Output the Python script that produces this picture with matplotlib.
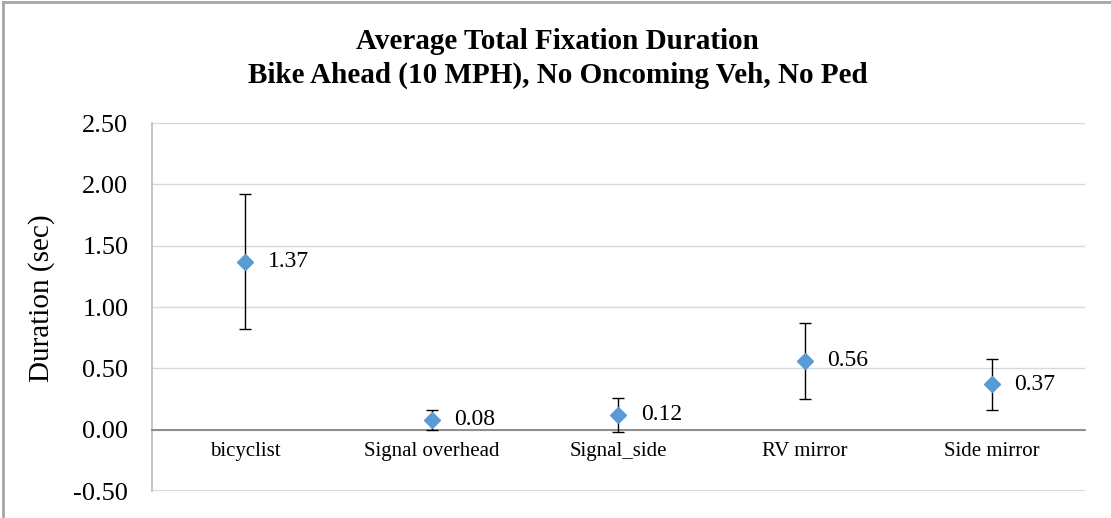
import numpy as np
import matplotlib.pyplot as plt
from matplotlib.lines import Line2D

categories = ['bicyclist', 'Signal overhead', 'Signal_side', 'RV mirror', 'Side mirror']
means = [1.37, 0.08, 0.12, 0.56, 0.37]
errors = [0.55, 0.08, 0.14, 0.31, 0.21]
yticks = [-0.5, 0.0, 0.5, 1.0, 1.5, 2.0, 2.5]

plt.rcParams['font.family'] = ['Liberation Serif', 'DejaVu Serif']

fig = plt.figure(figsize=(11.11, 5.18), dpi=100)
ax = fig.add_axes([0.1368, 0.0521, 0.8398, 0.7104])

# move the category axis to y=0 first (set_position resets the ticks)
ax.spines['bottom'].set_position(('data', 0))
ax.spines['bottom'].set_color('#868686')
ax.spines['bottom'].set_linewidth(1.3)
ax.spines['top'].set_visible(False)
ax.spines['right'].set_visible(False)
ax.spines['left'].set_color('#BFBFBF')
ax.spines['left'].set_linewidth(1.3)

x = np.arange(len(categories))
ax.errorbar(x, means, yerr=errors, fmt='D', color='#5B9BD5', markersize=8,
            ecolor='black', elinewidth=1, capsize=4.5, capthick=1, zorder=3)

# data labels right of each marker
for xi, m in zip(x, means):
    ax.annotate(f'{m:.2f}', (xi, m), xytext=(16, 0), textcoords='offset points',
                va='center', ha='left', fontsize=17)

ax.set_xlim(-0.5, len(categories) - 0.5)
ax.set_ylim(-0.5, 2.5)
ax.set_yticks(yticks)
ax.set_yticklabels([f'{v:.2f}' for v in yticks], fontsize=19)
ax.yaxis.grid(True, color='#D9D9D9', linewidth=1)
ax.set_axisbelow(True)

ax.set_xticks(x)
ax.set_xticklabels(categories, fontsize=15)
ax.tick_params(axis='y', length=0, pad=17)
ax.tick_params(axis='x', length=0, pad=9)
ax.axhline(-0.5, color='#D9D9D9', linewidth=1.5, zorder=0)

fig.text(42 / 1111, 0.4238, 'Duration (sec)', rotation=90, ha='center', va='center', fontsize=21)

fig.text(0.502, 0.9054, 'Average Total Fixation Duration', ha='center', va='baseline',
         fontsize=21, fontweight='bold')
fig.text(0.502, 0.8398, 'Bike Ahead (10 MPH), No Oncoming Veh, No Ped', ha='center',
         va='baseline', fontsize=21, fontweight='bold')

# chart frame (left and top edges)
fig.add_artist(Line2D([0.0025, 0.0025], [0, 0.996], transform=fig.transFigure,
                      color='#A6A6A6', linewidth=2))
fig.add_artist(Line2D([0.0025, 1], [0.996, 0.996], transform=fig.transFigure,
                      color='#A6A6A6', linewidth=2))

fig.savefig('out.png', dpi=100)
